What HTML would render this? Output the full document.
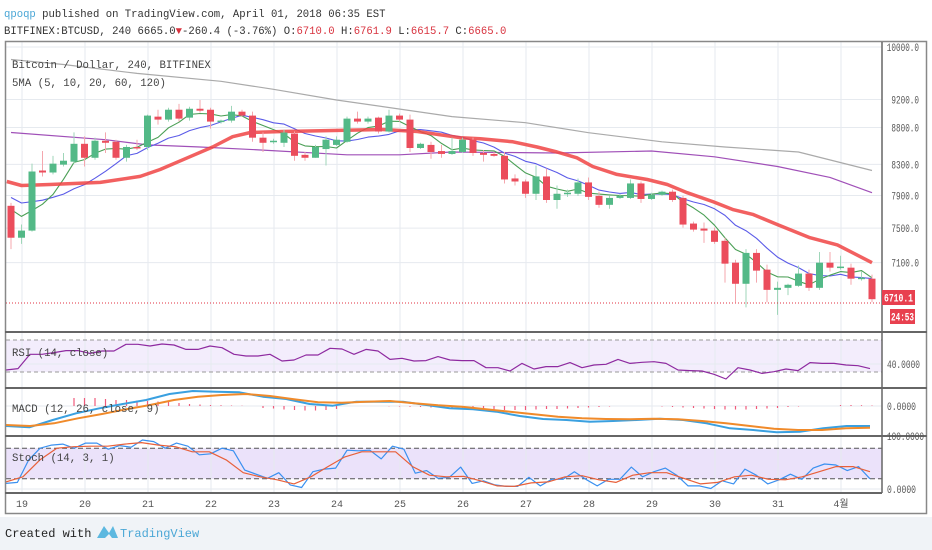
<!DOCTYPE html>
<html><head><meta charset="utf-8"><style>
body{margin:0;width:932px;height:550px;overflow:hidden;background:#fff;font-family:"Liberation Mono",monospace}
#hdr{position:absolute;left:4px;top:7px;font-size:10.6px;color:#333;line-height:17px;white-space:pre}
.b{color:#4ba7d6}.r{color:#d8323e}
#foot{position:absolute;left:0;top:517px;width:932px;height:33px;background:#f0f3f7}
svg{position:absolute;left:0;top:0}
</style></head><body>
<div id="hdr"><span class="b">qpoqp</span> published on TradingView.com, April 01, 2018 06:35 EST
<span>BITFINEX:BTCUSD, 240 6665.0<span class="r">▼</span>-260.4 (-3.76%) O:<span class="r">6710.0</span> H:<span class="r">6761.9</span> L:<span class="r">6615.7</span> C:<span class="r">6665.0</span></span></div>
<div id="foot"></div>
<svg id="c" width="932" height="550"></svg>
<script>
const opens=[7771,7387,7471,8219,8193,8296,8335,8575,8387,8617,8603,8387,8532,8532,8953,8911,9052,8939,9066,9052,8883,8897,9024,8968,8659,8603,8589,8716,8426,8387,8504,8560,8603,8925,8883,8939,8744,8968,8911,8518,8560,8477,8438,8464,8631,8451,8438,8413,8116,8077,7921,8142,7843,7921,7921,8065,7895,7783,7869,7869,8052,7856,7908,7947,7869,7555,7495,7471,7351,7100,6866,7211,7022,6800,6822,6844,6978,6822,7100,7044,7044,6922,6922];
const highs=[7807,7543,8309,8477,8413,8451,8733,8677,8659,8733,8631,8560,8631,8982,9052,9080,9137,9094,9193,9080,8911,9108,9052,9024,8733,8645,8770,8744,8464,8560,8677,8677,8953,9024,8953,8953,9052,8996,8982,8589,8603,8560,8659,8659,8659,8490,8464,8464,8168,8103,8284,8245,8026,7974,8116,8129,7947,7895,7921,8103,8077,7934,7960,7974,7895,7579,7567,7507,7387,7133,7255,7255,7078,6889,6866,7067,7022,7222,7222,7178,7089,7000,6966];
const lows=[7255,7315,7459,8142,8168,8271,8309,8271,8361,8451,8361,8335,8490,8490,8840,8883,8883,8897,9010,8784,8855,8869,8953,8603,8464,8575,8532,8348,8348,8387,8284,8546,8589,8855,8855,8716,8730,8883,8464,8504,8374,8387,8426,8451,8413,8335,8400,8052,8026,7869,7843,7807,7735,7882,7895,7843,7747,7735,7856,7856,7807,7843,7895,7819,7507,7459,7327,7315,6878,6667,6614,6878,6667,6535,6744,6833,6789,6800,7000,7022,6855,6900,6667];
const closes=[7387,7471,8206,8193,8309,8348,8575,8387,8617,8589,8387,8532,8518,8968,8911,9052,8925,9066,9038,8883,8897,9024,8968,8659,8589,8617,8730,8413,8387,8532,8631,8631,8925,8883,8925,8744,8968,8911,8518,8575,8464,8438,8477,8631,8451,8426,8413,8103,8077,7921,8142,7843,7921,7934,8065,7882,7783,7869,7895,8052,7856,7908,7947,7843,7543,7483,7471,7339,7089,6866,7211,7011,6800,6822,6855,6978,6822,7100,7044,7056,6922,6933,6700];
const preCloses=[8150,8050,8000,7950,7950,7900,7850,7800,7700];
const ma20Idx=[-0.4,1.0,3.7,8.5,12.3,14.2,16.8,19.2,21.1,22.8,25.9,30.7,35.4,38.7,42.8,44.7,47.8,50.1,52,53.9,55.4,57.7,60.6,62.5,64.4,66.9,68.8,70.7,73,76.1,78.7,82];
const ma20Val=[8077,8026,8039,8065,8142,8232,8387,8532,8673,8730,8744,8758,8772,8744,8659,8645,8603,8532,8464,8387,8271,8168,8103,8039,7934,7819,7723,7663,7543,7387,7303,7100];
const ma60Idx=[0,9,13,18,24,32,37,42,52,61,67,73,78,82];
const ma60Val=[8730,8631,8560,8532,8490,8426,8426,8464,8451,8477,8400,8271,8129,7935];
const ma120Idx=[0,5,12,20,25,31,42,49,55,62,68,75,82];
const ma120Val=[9803,9726,9590,9470,9350,9193,8953,8868,8728,8603,8532,8464,8219];
const priceTicks=[10000,9200,8800,8300,7900,7500,7100];
const dayLabels=["19","20","21","22","23","24","25","26","27","28","29","30","31","4월"];
const rsi=[32.5,34.2,52.1,52.1,54.2,56.7,56.7,53.3,56.3,56.3,64.6,64.6,62.5,65,63.8,58.3,58.3,62.5,60.4,52.1,50,50,52.1,43.8,45,51.3,51.3,59.6,58.8,52.1,58.3,56.3,45.8,47.1,43.8,44.2,49.2,45,44.2,44.2,35.4,35.4,31.3,40.8,33.8,36.7,36.7,41.7,35.4,38.8,39.6,45.8,40.8,42.1,42.9,40.8,32.5,31.7,31.3,27.1,21.3,35.4,32.5,28.3,30.4,33.8,31.7,41.7,40.8,40.8,38.8,37.9,34.2];
const macd=[-200,-213,-140,-73,-23,20,60,120,150,143,137,93,70,20,3,43,43,43,10,-23,-33,-57,-100,-130,-140,-157,-150,-140,-127,-140,-173,-223,-240,-263,-257,-223,-200,-200];
const signal=[-190,-200,-173,-123,-80,-33,10,60,93,110,120,100,67,37,33,43,50,27,7,-7,-33,-57,-83,-107,-123,-130,-133,-127,-133,-150,-173,-200,-227,-240,-240,-223,-217];
const hist=[0,0,0,0,0,0,80,80,80,70,60,60,55,50,45,40,30,20,15,10,8,5,3,0,-20,-25,-35,-40,-45,-45,-40,-30,0,0,0,0,-3,-5,-8,-10,-15,-20,-25,-30,-35,-40,-40,-40,-40,-40,-35,-30,-30,-25,-20,-15,-10,-5,0,0,0,0,-5,-10,-15,-20,-25,-30,-35,-35,-35,-30,-25,-20,-10,-5,0,0,0,10,10,8,5];
const stochK=[11,13,57,80,86,88,80,90,90,78,85,82,96,93,80,90,84,67,69,80,75,37,29,21,32,8,3,34,39,41,76,75,76,59,84,78,31,36,21,23,43,11,16,8,5,5,23,6,19,19,34,19,6,19,19,43,24,34,41,27,6,6,1,16,10,39,27,10,18,29,19,41,49,47,36,44,20];
const stochD=[14,24,57,80,83,84,84,88,91,86,83,73,73,57,32,24,18,10,24,44,63,73,73,73,44,27,24,25,16,6,5,12,14,24,26,18,13,27,32,32,21,10,13,24,27,19,18,24,34,44,44,34];

const svg=document.getElementById('c');const NS='http://www.w3.org/2000/svg';
function mk(t,a,p){const e=document.createElementNS(NS,t);for(const k in a)e.setAttribute(k,a[k]);(p||svg).appendChild(e);return e;}
const xOf=i=>11+10.5*i;
const yP=p=>47+(4-Math.log10(p))*1450;
const yR=v=>364-(v-40)*0.8;
const yM=v=>406-v*0.1;
const yS=v=>489-v*0.51;
const xSpread=(k,n)=>6+k*864/(n-1);
const dayX=d=>22+63*d;
const defs=mk('defs',{});
[['cm',42,290],['cr',333,55],['cmacd',389,46],['cs',437,56]].forEach(c=>{const cp=mk('clipPath',{id:c[0]},defs);mk('rect',{x:6,y:c[1],width:876,height:c[2]},cp);});
mk('rect',{x:6,y:yR(70),width:876,height:yR(30)-yR(70),fill:'#9c6ee6','fill-opacity':0.12});
mk('rect',{x:6,y:yS(80),width:876,height:yS(20)-yS(80),fill:'#9c6ee6','fill-opacity':0.2});
const grid=mk('g',{stroke:'#e6eaef','stroke-width':1});

dayLabels.forEach((d,i)=>mk('line',{x1:dayX(i),x2:dayX(i),y1:42,y2:493},grid));
priceTicks.forEach(p=>mk('line',{x1:6,x2:882,y1:yP(p),y2:yP(p)},grid));
mk('line',{x1:6,x2:882,y1:yR(40),y2:yR(40)},grid);
mk('line',{x1:6,x2:882,y1:yM(0),y2:yM(0)},grid);
mk('line',{x1:6,x2:882,y1:yS(0),y2:yS(0)},grid);
[70,30].forEach(v=>mk('line',{x1:6,x2:882,y1:yR(v),y2:yR(v),stroke:'#999','stroke-dasharray':'4,3'}));
[80,20].forEach(v=>mk('line',{x1:6,x2:882,y1:yS(v),y2:yS(v),stroke:'#555','stroke-dasharray':'5,3'}));
const mg=mk('g',{'clip-path':'url(#cm)'});
function poly(xs,ys,st,w,par,name){const p=mk('polyline',{points:xs.map((x,i)=>x.toFixed(1)+','+ys[i].toFixed(1)).join(' '),fill:'none',stroke:st,'stroke-width':w,'stroke-linejoin':'round'},par);return p;}
poly(ma120Idx.map(xOf),ma120Val.map(yP),'#aaaaaa',1.2,mg,'ma120-line');
poly(ma60Idx.map(xOf),ma60Val.map(yP),'#a050b8',1.2,mg,'ma60-line');
const all=preCloses.concat(closes);
function sma(n){const r=[];for(let i=0;i<closes.length;i++){let s=0,c=0;for(let j=i+9-n+1;j<=i+9;j++){if(j>=0){s+=all[j];c++;}}r.push(s/c);}return r;}
const m10=sma(10),m5=sma(5);
poly(closes.map((c,i)=>xOf(i)),m10.map(yP),'#5b5be8',1.1,mg,'ma10-line');
poly(closes.map((c,i)=>xOf(i)),m5.map(yP),'#4a9f55',1.1,mg,'ma5-line');
poly(ma20Idx.map(xOf),ma20Val.map(yP),'#f04444',3.5,mg,'ma20-line').setAttribute('stroke-opacity','0.85');
closes.forEach((c,i)=>{const up=c>=opens[i];const col=up?'#53b987':'#eb4d5c';const x=xOf(i);
 const w=mk('line',{x1:x,x2:x,y1:yP(highs[i]),y2:yP(lows[i]),stroke:up?'#9fd6b9':'#f4a7ae','stroke-width':1},mg);
 
 const t=yP(Math.max(c,opens[i])),b=yP(Math.min(c,opens[i]));
 const r=mk('rect',{x:x-3.5,y:t,width:7,height:Math.max(1.5,b-t),fill:col},mg);
 });
mk('line',{x1:6,x2:882,y1:303,y2:303,stroke:'#e03040','stroke-dasharray':'1,2'});
poly(rsi.map((v,k)=>xSpread(k,rsi.length)),rsi.map(yR),'#8e2aa0',1.2,mk('g',{'clip-path':'url(#cr)'}),'rsi-line');
const mcg=mk('g',{'clip-path':'url(#cmacd)'});
hist.forEach((v,i)=>{if(!v)return;const l=mk('line',{x1:xOf(i),x2:xOf(i),y1:yM(0),y2:yM(v),stroke:'#f05a7a','stroke-width':1.2},mcg);});
poly(macd.map((v,k)=>xSpread(k,macd.length)),macd.map(yM),'#3aa0e0',2,mcg,'macd-line');
poly(signal.map((v,k)=>xSpread(k,signal.length)),signal.map(yM),'#f08a2a',2,mcg,'signal-line');
const sg=mk('g',{'clip-path':'url(#cs)'});
poly(stochK.map((v,k)=>xSpread(k,stochK.length)),stochK.map(yS),'#3a90f0',1.2,sg,'stoch-k-line');
poly(stochD.map((v,k)=>xSpread(k,stochD.length)),stochD.map(yS),'#e8603a',1.2,sg,'stoch-d-line');
mk('rect',{x:5.5,y:41.5,width:921,height:472,fill:'none',stroke:'#888','stroke-width':1.5});
[332,388,436].forEach(y=>mk('line',{x1:5,x2:927,y1:y,y2:y,stroke:'#666','stroke-width':2}));
mk('line',{x1:5,x2:882,y1:493,y2:493,stroke:'#666','stroke-width':2});
mk('line',{x1:882,x2:882,y1:42,y2:493,stroke:'#666','stroke-width':1.5});
function txt(s,x,y,o,name,inter){const t=mk('text',Object.assign({x:x,y:y,'font-family':'Liberation Mono, Noto Sans CJK KR, monospace','font-size':10,fill:'#555'},o||{}));t.textContent=s;return t;}
function axl(s,x,y,w,name){return txt(s,x,y,{'font-size':11,textLength:w,lengthAdjust:'spacingAndGlyphs'},name);}
priceTicks.forEach(p=>{const s=p.toFixed(1);axl(s,919-s.length*4.6,yP(p)+4,s.length*4.6,'price-tick-label');});
axl('40.0000',887,yR(40)+4,33,'rsi-tick-label');
axl('0.0000',887,yM(0)+4,29,'macd-tick-label');
axl('100.0000',887,yS(100)+2,37,'stoch-tick-label');
axl('0.0000',887,yS(0)+4,29,'stoch-tick-label');
dayLabels.forEach((d,i)=>txt(d,dayX(i),507,{'text-anchor':'middle'},'time-axis-label'));
const bx=mk('rect',{x:882,y:290,width:33,height:15,fill:'#e8404f'});
txt('6710.1',898.5,301.5,{'text-anchor':'middle',fill:'#fff','font-weight':'bold','font-size':11,textLength:29,lengthAdjust:'spacingAndGlyphs'},'last-price-label');
mk('rect',{x:890,y:309,width:25,height:15,fill:'#e8404f'});
txt('24:53',902.5,320.5,{'text-anchor':'middle',fill:'#fff','font-weight':'bold','font-size':11,textLength:23,lengthAdjust:'spacingAndGlyphs'},'countdown-label');
txt('Bitcoin / Dollar, 240, BITFINEX',12,68,{'font-size':10.7,fill:'#444'},'chart-title-legend');
txt('5MA (5, 10, 20, 60, 120)',12,86,{'font-size':10.7,fill:'#444'},'ma-legend');
txt('RSI (14, close)',12,356,{'font-size':10.7,fill:'#444'},'rsi-legend');
txt('MACD (12, 26, close, 9)',12,412,{'font-size':10.7,fill:'#444'},'macd-legend');
txt('Stoch (14, 3, 1)',12,461,{'font-size':10.7,fill:'#444'},'stoch-legend');
txt('Created with',5,537,{'font-size':12,fill:'#222'},'created-with-text');
const lg=mk('path',{d:'M97 538 L104 526 L109 533 L113 526 L118 538 L112 538 L109 534 L105 538 Z',fill:'#5db8e0'});
txt('TradingView',120,537,{'font-size':12,fill:'#4ba7d6'},'tradingview-link',true);
</script>
</body></html>
